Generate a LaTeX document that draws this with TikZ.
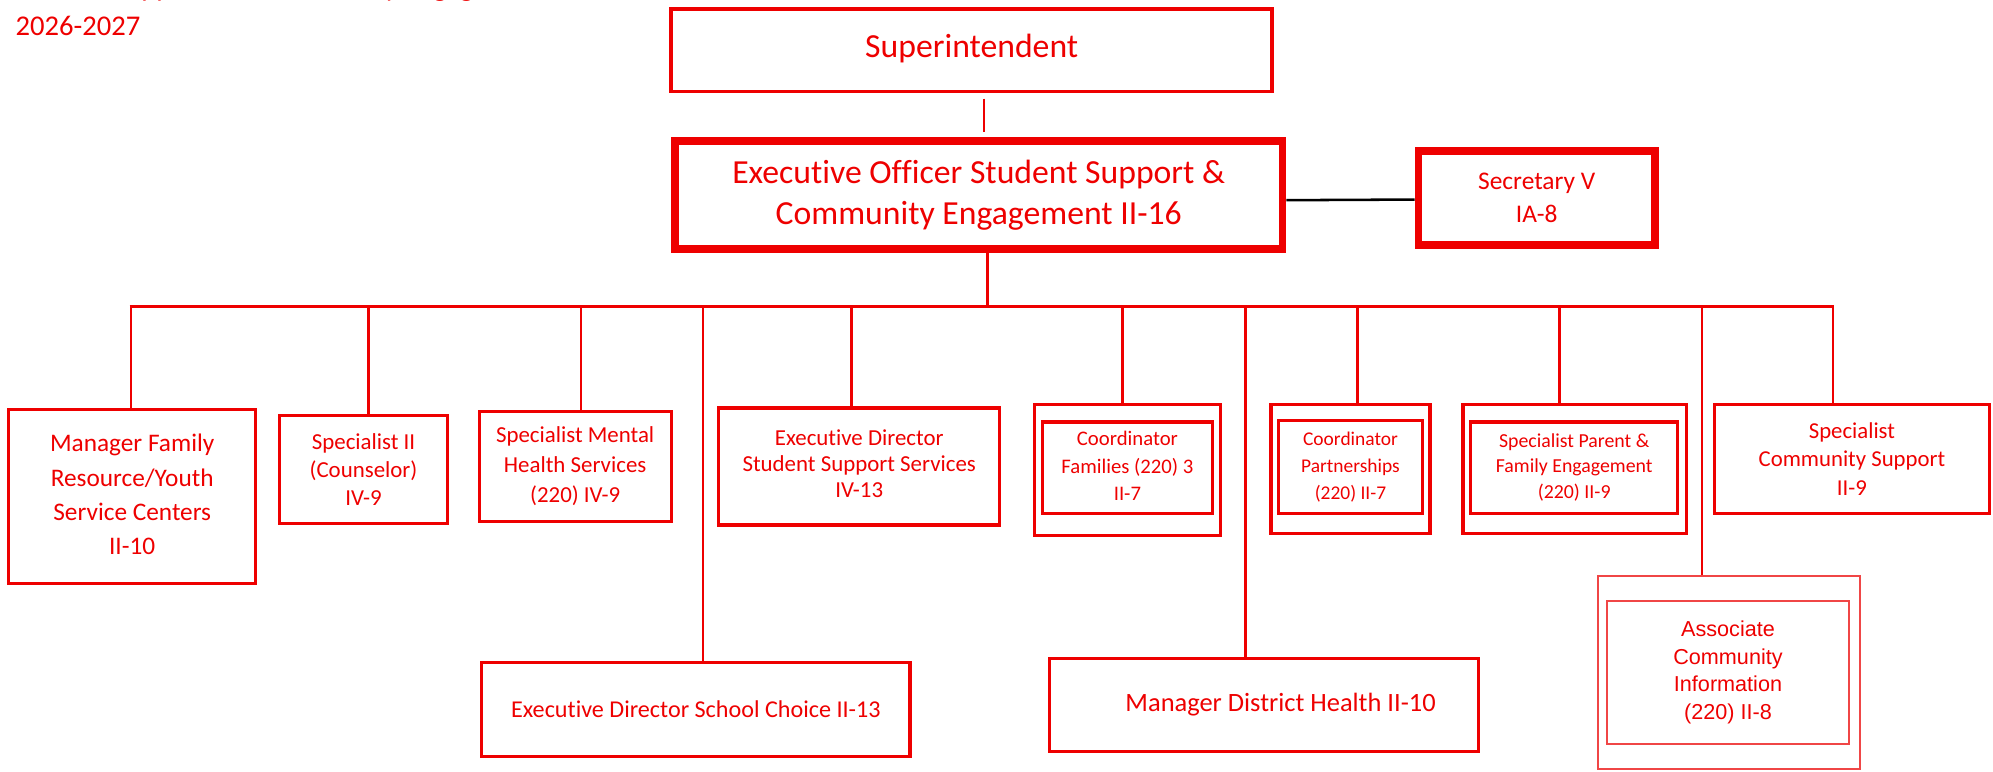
\documentclass[tikz,border=0pt]{standalone}
\usepackage{fontspec}
\setmainfont{Carlito}[Ligatures=NoCommon]
\newfontfamily\arialf{Liberation Sans}
\definecolor{ored}{RGB}{238,0,0}
\definecolor{lred}{RGB}{240,70,70}
\newcommand{\fs}[2]{\fontsize{#1}{#2}\selectfont}
\tikzset{
  box/.style={draw=ored, line width=2.5pt, text=ored, align=center, inner sep=0pt, anchor=center},
  outerbox/.style={draw=ored, line width=2.5pt, inner sep=0pt, anchor=center},
  thinbox/.style={draw=lred, line width=1.5pt, inner sep=0pt, anchor=center, text=ored, align=center},
  conn/.style={draw=ored, line width=2pt},
}
\begin{document}
\begin{tikzpicture}[x=1pt,y=-1pt]
\clip (0,0) rectangle (1568,607);
\useasboundingbox (0,0) rectangle (1568,607);
\fill[white] (0,0) rectangle (1568,607);

% title (partly cut at top)
\node[text=ored, anchor=base west, inner sep=0pt, font=\fs{22.5}{26}] (t1) at (12,-2.5) {Student Support and Community Engagement};
\node[text=ored, anchor=base west, inner sep=0pt, font=\fs{22.5}{26}] (t2) at (12,28) {2026-2027};

% top
\node[box, line width=3pt, minimum width=473, minimum height=65, font=\fs{26.5}{30}] (sup) at (764.5,39.5) {\raisebox{7pt}{Superintendent}};
\node[box, line width=6pt, minimum width=478, minimum height=85, font=\fs{26.5}{32}] (exo) at (770,153.5) {Executive Officer Student Support \&\\Community Engagement II-16};
\node[box, line width=6pt, minimum width=186, minimum height=74, font=\fs{20}{26}] (sec) at (1209,156) {Secretary V\\IA-8};

% second row
\node[box, minimum width=194, minimum height=137, font=\fs{19.9}{27}] (mfr) at (104,390.5) {\raisebox{7pt}{\begin{tabular}{@{}c@{}}Manager Family\\Resource/Youth\\Service Centers\\II-10\end{tabular}}};
\node[box, minimum width=132, minimum height=85, font=\fs{18}{22}] (sp2) at (286,369.5) {Specialist II\\(Counselor)\\IV-9};
\node[box, minimum width=151, minimum height=86, font=\fs{18}{23.5}] (smh) at (452.5,367) {Specialist Mental\\Health Services\\(220) IV-9};
\node[box, minimum width=221, minimum height=92, font=\fs{18}{20.5}] (edss) at (676,367) {\raisebox{5.5pt}{\begin{tabular}{@{}c@{}}Executive Director\\Student Support Services\\IV-13\end{tabular}}};

\node[outerbox, minimum width=146, minimum height=103] (cfo) at (887,369.5) {};
\node[box, minimum width=134, minimum height=72, font=\fs{16.3}{21.5}] (cf) at (887,368) {\raisebox{-4pt}{\begin{tabular}{@{}c@{}}Coordinator\\Families (220) 3\\II-7\end{tabular}}};

\node[outerbox, minimum width=125, minimum height=102] (cpo) at (1062.5,369) {};
\node[box, minimum width=113, minimum height=73, font=\fs{15.3}{21}] (cp) at (1062.5,367.5) {\raisebox{-3pt}{\begin{tabular}{@{}c@{}}Coordinator\\Partnerships\\(220) II-7\end{tabular}}};

\node[outerbox, minimum width=176, minimum height=102] (spfo) at (1239,369) {};
\node[box, minimum width=163, minimum height=72, font=\fs{15.6}{20}] (spf) at (1238.5,368) {\raisebox{-3pt}{\begin{tabular}{@{}c@{}}Specialist Parent \&\\Family Engagement\\(220) II-9\end{tabular}}};

\node[box, minimum width=216, minimum height=86, font=\fs{17.9}{22.5}] (scs) at (1457,361) {Specialist\\Community Support\\II-9};

% third row
\node[box, minimum width=337, minimum height=74, font=\fs{19}{22}] (edsc) at (547.5,558) {Executive Director School Choice II-13};
\node[box, minimum width=337, minimum height=73, font=\fs{20.8}{22}] (mdh) at (994.5,554.5) {\hspace*{26pt}Manager District Health II-10};
\node[thinbox, minimum width=206, minimum height=152] (acio) at (1360,529) {};
\node[thinbox, minimum width=191, minimum height=112, font=\arialf\fs{17}{22}] (aci) at (1359.5,529) {\raisebox{4pt}{\begin{tabular}{@{}c@{}}Associate\\Community\\Information\\(220) II-8\end{tabular}}};

% connectors
\coordinate (tx) at (774,0);
\draw[conn, shorten <=4pt, shorten >=4pt] (sup.south -| tx) -- (exo.north -| tx);
\draw[black, line width=2pt] ([yshift=-4pt]exo.east) -- ([yshift=-1pt]sec.west);

\coordinate (bt) at (777,241);
\coordinate (bl) at (102,241);
\coordinate (br) at (1443,241);
\draw[conn] (exo.south -| bt) -- (bt);
\draw[conn] (bl) -- (br);

\coordinate (d1) at (103,241);
\coordinate (d2) at (290,241);
\coordinate (d3) at (457,241);
\coordinate (d4) at (553,241);
\coordinate (d5) at (670,241);
\coordinate (d6) at (883,241);
\coordinate (d7) at (980,241);
\coordinate (d8) at (1068,241);
\coordinate (d9) at (1227,241);
\coordinate (d10) at (1339,241);
\coordinate (d11) at (1442,241);
\draw[conn] (d1) -- (d1 |- mfr.north);
\draw[conn] (d2) -- (d2 |- sp2.north);
\draw[conn] (d3) -- (d3 |- smh.north);
\draw[conn] (d4) -- (d4 |- edsc.north);
\draw[conn] (d5) -- (d5 |- edss.north);
\draw[conn] (d6) -- (d6 |- cfo.north);
\draw[conn] (d7) -- (d7 |- mdh.north);
\draw[conn] (d8) -- (d8 |- cpo.north);
\draw[conn] (d9) -- (d9 |- spfo.north);
\draw[conn, line width=1.5pt] (d10) -- (d10 |- acio.north);
\draw[conn] (d11) -- (d11 |- scs.north);
\end{tikzpicture}
\end{document}
